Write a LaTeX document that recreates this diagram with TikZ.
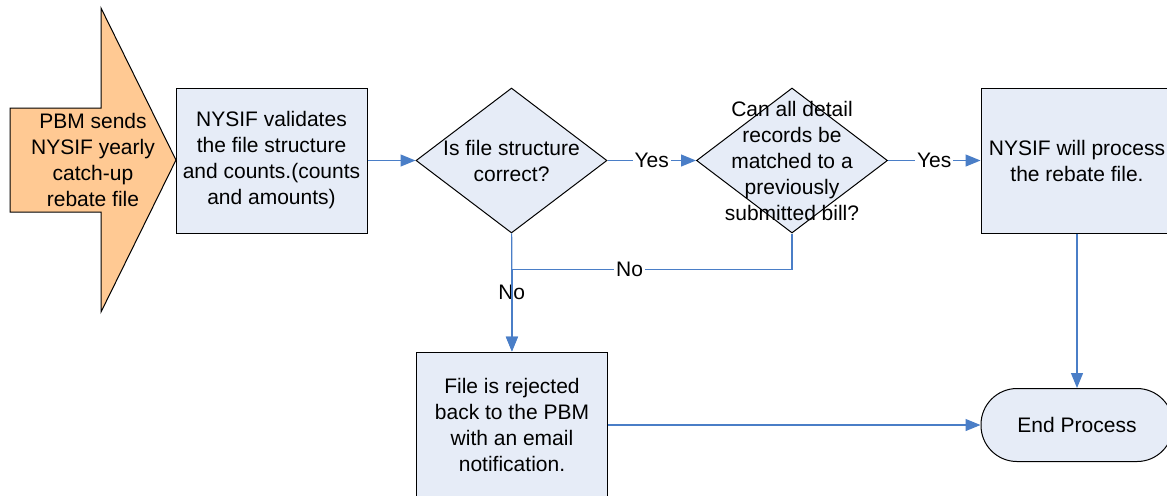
\documentclass[tikz,border=0pt]{standalone}
\usepackage{fontspec}
\setmainfont{Liberation Sans}
\usepackage{tikz}
\usetikzlibrary{shapes.geometric,arrows.meta}
\definecolor{boxfill}{HTML}{E6ECF7}
\definecolor{pbmfill}{HTML}{FFC993}
\definecolor{lineblue}{HTML}{4A7EC7}

\begin{document}
\begin{tikzpicture}[x = 0.5pt, y = -0.5pt,
  font = \fontsize{10.5pt}{13pt}\selectfont,
  box/.style = {draw = black, fill = boxfill, line width = 0.5pt, align = center,
    inner sep = 0pt, minimum width = 95.5pt, minimum height = 72.5pt},
  decision/.style = {diamond, draw = black, fill = boxfill, line width = 0.5pt,
    inner sep = 0pt, minimum width = 95.5pt, minimum height = 72.5pt},
  terminal/.style = {rectangle, rounded corners = 18pt, draw = black, fill = boxfill,
    line width = 0.5pt, minimum width = 96pt, minimum height = 36.5pt},
  conn/.style = {draw = lineblue, line width = 0.6pt, -{Triangle[length = 7.5pt, width = 6pt]}},
  lbl/.style = {fill = white, inner sep = 1pt}]
\useasboundingbox (0, 0) rectangle (1167, 495);
% incoming file arrow
\draw[fill = pbmfill, line width = 0.5pt] (10, 108) -- (101, 108) -- (101, 8) -- (176, 160)
  -- (101, 312) -- (101, 212) -- (10, 212) -- cycle;
\node[align = center] (pbm) at (93, 160) {PBM sends\\NYSIF yearly\\catch-up\\rebate file};
% steps
\node[box] (valid) at (271.5, 160.5) {NYSIF validates\\the file structure\\and counts.(counts\\and amounts)};
\node[decision, label = {[align = center]center:Is file structure\\correct?}] (struct) at (511.5, 160.5) {};
\node[decision, label = {[align = center]center:Can all detail\\records be\\matched to a\\previously\\submitted bill?}] (match) at (792, 160.5) {};
\node[box, minimum width = 96pt] (proc) at (1077, 160.5) {NYSIF will process\\the rebate file.};
\node[box, minimum height = 73pt] (reject) at (512, 425) {File is rejected\\back to the PBM\\with an email\\notification.};
\node[terminal] (endp) at (1077, 425) {End Process};
% connectors
\draw[conn] (valid) -- (struct);
\draw[conn] (struct) -- node[lbl] {Yes} (match);
\draw[conn] (match) -- node[lbl] {Yes} (proc);
\draw[conn] (struct) -- node[lbl] {No} (reject);
\draw[conn] (match.south) -- ++(0, 36) -| node[lbl, pos = 0.29] {No} (reject.north);
\draw[conn] (proc) -- (endp);
\draw[conn] (reject) -- (endp);
\end{tikzpicture}
\end{document}
